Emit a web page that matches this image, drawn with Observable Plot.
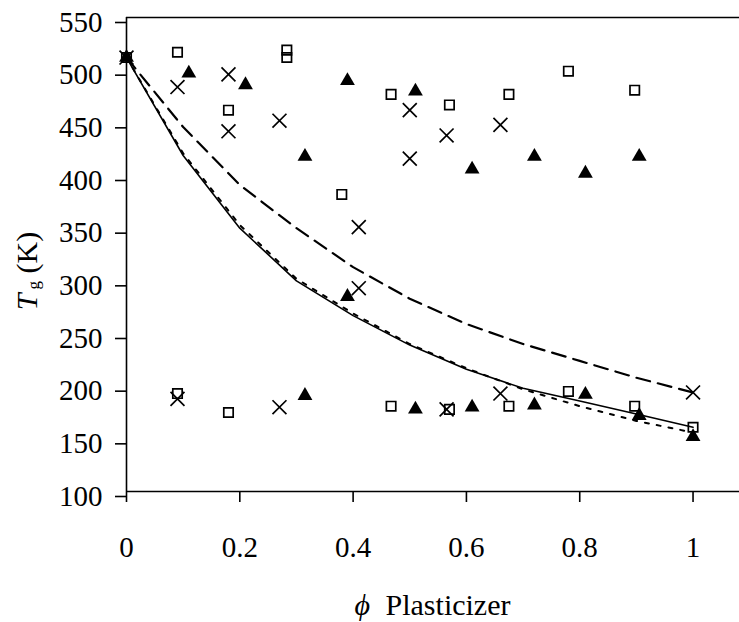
<!DOCTYPE html>
<html>
<head>
<meta charset="utf-8">
<script src="https://cdn.jsdelivr.net/npm/d3@7"></script>
<script src="https://cdn.jsdelivr.net/npm/@observablehq/plot@0.6"></script>
<style>
  body { margin: 0; background: #fff; }
  #chart svg { display: block; }
  #chart svg, #chart svg text, #chart svg tspan { font-family: "Liberation Serif", "DejaVu Serif", serif !important; }
</style>
</head>
<body>
<div id="chart"></div>
<script>
// ---- data ----
const xTicks = [0, 0.2, 0.4, 0.6, 0.8, 1];
const yTicks = [100, 150, 200, 250, 300, 350, 400, 450, 500, 550];

// model curves, sampled at phi = 0, 0.1, ..., 1
const phiGrid  = [0, 0.1, 0.2, 0.3, 0.4, 0.5, 0.6, 0.7, 0.8, 0.9, 1.0];
const solidTg  = [512, 419, 350, 300, 267, 239, 216, 198, 186, 173.5, 161];
const dottedTg = [512, 421, 353, 302, 269, 240, 217, 197, 181, 167, 156];
const dashedTg = [512, 446, 391, 350, 313, 283, 259, 240, 224, 208, 194];

// open squares
const squarePhi = [0, 0.09, 0.18, 0.283, 0.283, 0.38, 0.467, 0.57, 0.675, 0.78, 0.897,
                   0.09, 0.18, 0.467, 0.57, 0.675, 0.78, 0.897, 1.0];
const squareTg  = [512, 517, 462, 519, 512, 382, 477, 467, 477, 499, 481,
                   193, 175, 181, 178, 181, 195, 181, 161];

// crosses
const crossPhi = [0, 0.09, 0.18, 0.18, 0.27, 0.41, 0.41, 0.50, 0.50, 0.565, 0.66,
                  0.09, 0.27, 0.565, 0.66, 1.0];
const crossTg  = [512, 484, 496, 442, 452, 351, 293, 462, 416, 438, 448,
                  188, 180, 178, 193, 194];

// filled triangles
const trianglePhi = [0, 0.11, 0.21, 0.315, 0.39, 0.39, 0.51, 0.61, 0.72, 0.81, 0.905,
                     0.315, 0.51, 0.61, 0.72, 0.81, 0.905, 1.0];
const triangleTg  = [512, 497, 486, 418, 490, 285, 480, 406, 418, 402, 418,
                     191, 178, 180, 182, 192, 172, 152];

// ---- tables ----
const toRows = (xs, ys) => xs.map((x, i) => ({x, y: ys[i]}));
const solidRows = toRows(phiGrid, solidTg);
const dottedRows = toRows(phiGrid, dottedTg);
const dashedRows = toRows(phiGrid, dashedTg);
const squareRows = toRows(squarePhi, squareTg);
const crossRows = toRows(crossPhi, crossTg);
const triangleRows = toRows(trianglePhi, triangleTg);

const font = "'Liberation Serif', 'DejaVu Serif', serif";

const plot = Plot.plot({
  width: 739,
  height: 622,
  marginLeft: 126,
  marginRight: 0,
  marginTop: 17,
  marginBottom: 131,
  style: {fontFamily: font, fontSize: "29px", background: "white", color: "black"},
  x: {domain: [0, 1.082]},
  y: {domain: [100, 550]},
  marks: [
    Plot.ruleY([100, 550], {stroke: "black", strokeWidth: 1.6}),
    Plot.ruleX([0], {stroke: "black", strokeWidth: 1.6}),
    Plot.axisX({ticks: xTicks, tickFormat: d => String(d), tickSize: 11, tickPadding: 34,
                strokeWidth: 1.6, label: null, fill: "black", fontVariant: "normal"}),
    Plot.axisY({ticks: yTicks, tickFormat: d => String(d), tickSize: 11, tickPadding: 13,
                dy: 5, strokeWidth: 1.6, label: null, fill: "black", fontVariant: "normal"}),
    Plot.line(solidRows, {x: "x", y: "y", stroke: "black", strokeWidth: 1.6}),
    Plot.line(dottedRows, {x: "x", y: "y", stroke: "black", strokeWidth: 2, strokeDasharray: "4,8"}),
    Plot.line(dashedRows, {x: "x", y: "y", stroke: "black", strokeWidth: 2.2, strokeDasharray: "14,8"}),
    Plot.dot(squareRows, {x: "x", y: "y", symbol: "square", r: 5.3, fill: "none", stroke: "black", strokeWidth: 1.7}),
    Plot.dot(crossRows, {x: "x", y: "y", symbol: "times", r: 6.4, stroke: "black", strokeWidth: 1.7}),
    Plot.dot(triangleRows, {x: "x", y: "y", symbol: "triangle", r: 5.5, fill: "black", stroke: "none"})
  ]
});

document.getElementById("chart").appendChild(plot);

// axis titles with mixed styling (real text)
const svg = d3.select(plot);
const yt = svg.append("text")
  .attr("transform", "translate(37,271) rotate(-90)")
  .attr("text-anchor", "middle")
  .attr("font-family", font)
  .attr("font-size", 30)
  .attr("fill", "black");
yt.append("tspan").attr("font-style", "italic").text("T");
yt.append("tspan").attr("font-size", 17).attr("dx", 4).attr("dy", 2).text("g");
yt.append("tspan").attr("dy", -2).text("\u00A0(K)");

const xt = svg.append("text")
  .attr("x", 432.5)
  .attr("y", 615)
  .attr("text-anchor", "middle")
  .attr("font-family", font)
  .attr("font-size", 30)
  .attr("fill", "black");
xt.append("tspan").attr("font-style", "italic").text("\u03D5");
xt.append("tspan").attr("dx", 8).text("\u00A0Plasticizer");
</script>
</body>
</html>
